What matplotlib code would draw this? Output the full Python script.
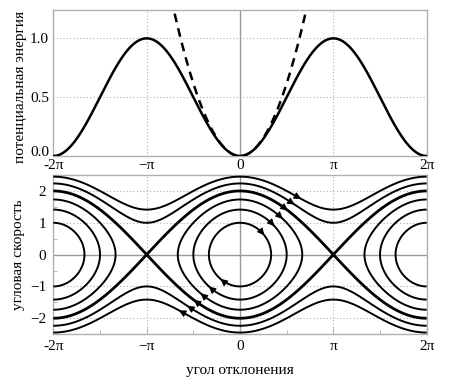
import matplotlib
matplotlib.use("Agg")
import matplotlib.pyplot as plt
import numpy as np

plt.rcParams["font.family"] = ["Liberation Serif", "DejaVu Serif"]
plt.rcParams["font.size"] = 11

# energy levels of the phase portrait, E = w^2/2 + 1 - cos(theta)
levels = [0.5, 1.0, 1.5, 2.0, 2.5, 3.0]
level_widths = [1.4, 1.4, 1.4, 2.0, 1.4, 1.4]

# arrow positions (theta) on each level: upper right and lower left branches
arrow_theta_up = [0.78, 1.12, 1.40, 1.57, 1.80, 2.02]
arrow_theta_down = [-0.62, -1.01, -1.29, -1.52, -1.74, -2.02]

xticks = [-2 * np.pi, -np.pi, 0, np.pi, 2 * np.pi]
xticklabels = ["-2π", "−π", "0", "π", "2π"]
top_yticks = [0.0, 0.5, 1.0]
bot_yticks = [-2, -1, 0, 1, 2]

GRID = "#b0b0b0"


def potential(t):
    return (1 - np.cos(t)) / 2


def omega(t, e, sign):
    return sign * np.sqrt(np.maximum(2 * (e - 1 + np.cos(t)), 0))


fig = plt.figure(figsize=(4.52, 3.89), dpi=100)
ax1 = fig.add_axes([0.118, 0.599, 0.826, 0.375])
ax2 = fig.add_axes([0.118, 0.141, 0.826, 0.409])

# --- top: potential energy
th = np.linspace(-2 * np.pi, 2 * np.pi, 800)
for y in [0.5, 1.0]:
    ax1.axhline(y, color=GRID, ls=(0, (1, 2)), lw=0.8, zorder=0)
for x in [-np.pi, np.pi]:
    ax1.axvline(x, color=GRID, ls=(0, (1, 2)), lw=0.8, zorder=0)
ax1.axvline(0, color="#999999", lw=1.0, zorder=0)
ax1.plot(th, th ** 2 / 4, color="k", lw=1.8, ls=(0, (3.5, 2.5)), zorder=2)
ax1.plot(th, potential(th), color="k", lw=1.8, zorder=3)
ax1.set_xlim(-2 * np.pi, 2 * np.pi)
ax1.set_ylim(0, 1.24)
ax1.set_xticks(xticks)
ax1.set_xticklabels(xticklabels)
ax1.set_yticks(top_yticks)
ax1.set_yticklabels([f"{v:.1f}" for v in top_yticks])
ax1.tick_params(direction="in", length=0, pad=2)
ax1.tick_params(axis="y", pad=3)
ax1.get_yticklabels()[0].set_va("baseline")
ax1.set_ylabel("потенциальная энергия", fontsize=11)
ax1.yaxis.set_label_coords(-0.07, 0.47)

# --- bottom: phase portrait
for y in [-2, -1, 1, 2]:
    ax2.axhline(y, color=GRID, ls=(0, (1, 2)), lw=0.8, zorder=0)
for x in [-np.pi, np.pi]:
    ax2.axvline(x, color=GRID, ls=(0, (1, 2)), lw=0.8, zorder=0)
ax2.axvline(0, color="#999999", lw=1.0, zorder=0)
ax2.axhline(0, color="#999999", lw=1.0, zorder=0)

T, W = np.meshgrid(np.linspace(-2 * np.pi, 2 * np.pi, 900),
                   np.linspace(-2.6, 2.6, 500))
E = W ** 2 / 2 + 1 - np.cos(T)
ax2.contour(T, W, E, levels=levels, colors="k", linewidths=level_widths, zorder=3)

for e, tu, td in zip(levels, arrow_theta_up, arrow_theta_down):
    for t0, sign, step in [(tu, 1, 0.04), (td, -1, -0.04)]:
        p0 = (t0, omega(t0, e, sign))
        p1 = (t0 + step, omega(t0 + step, e, sign))
        ax2.annotate("", xy=p1, xytext=p0,
                     arrowprops=dict(arrowstyle="-|>,head_length=0.6,head_width=0.3",
                                     color="k", lw=0.8, mutation_scale=7,
                                     shrinkA=0, shrinkB=0),
                     zorder=4)

ax2.set_xlim(-2 * np.pi, 2 * np.pi)
ax2.set_ylim(-2.5, 2.5)
ax2.set_xticks(xticks)
ax2.set_xticklabels(xticklabels)
ax2.set_xticks([-1.5 * np.pi, -0.5 * np.pi, 0.5 * np.pi, 1.5 * np.pi], minor=True)
ax2.set_yticks(bot_yticks)
ax2.set_yticks([-1.5, -0.5, 0.5, 1.5], minor=True)
ax2.tick_params(direction="in", length=4, color=GRID, pad=4)
ax2.tick_params(which="minor", direction="in", length=3, color=GRID)
ax2.tick_params(axis="y", length=0, pad=5)
ax2.tick_params(axis="y", which="minor", length=3)
ax2.set_ylabel("угловая скорость", fontsize=11)
ax2.yaxis.set_label_coords(-0.075, 0.5)
ax2.set_xlabel("угол отклонения", fontsize=11, labelpad=8)

for ax in (ax1, ax2):
    for s in ax.spines.values():
        s.set_color(GRID)
        s.set_linewidth(1.0)

fig.savefig("out.png", dpi=100)
